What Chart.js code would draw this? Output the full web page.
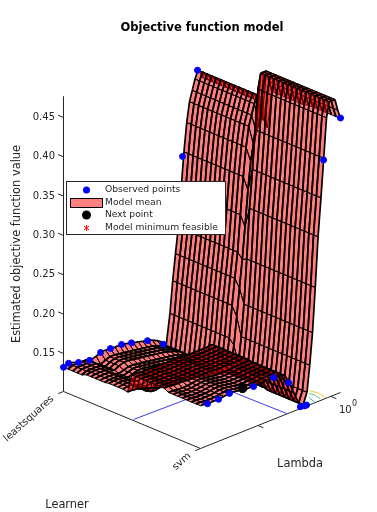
<!DOCTYPE html>
<html>
<head>
<meta charset="utf-8">
<style>
html, body { margin: 0; padding: 0; background: #fff; }
canvas { display: block; }
</style>
<script src="https://cdn.jsdelivr.net/npm/chart.js@4/dist/chart.umd.js"></script>
</head>
<body>
<canvas id="myChart" width="377" height="512"></canvas>
<script>
// categories and ticks
var learners = ['leastsquares', 'svm'];
var learnerTicks = [0, 1];
var lambdaTicks = [-5, 0];
var valueTicks = [0.15, 0.2, 0.25, 0.3, 0.35, 0.4, 0.45];

// model grid: log10(lambda) columns, learner position rows
var lambdaGrid = [-8.94, -8.62, -8.30, -7.98, -7.66, -7.34, -7.02, -6.70, -6.38, -6.06, -5.74, -5.42, -5.10, -4.78, -4.46, -4.14, -3.82, -3.50, -3.18, -2.86, -2.54, -2.22, -1.90, -1.64, -1.45, -1.26, -1.07, -0.88, -0.68, -0.49, -0.30, -0.11, 0.08, 0.28, 0.47, 0.66];
var learnerGrid = [0, .033, .067, .1, .133, .167, .2, .233, .267, .3, .333, .367, .4, .433, .467, .5, .533, .567, .6, .633, .667, .7, .733, .767, .8, .833, .867, .9, .933, .967, 1];

// model mean along lambda, one list per stretch of the learner axis
var backRow = [.1325, .135, .134, .131, .13, .128, .128, .13, .1325, .133, .1325, .132, .132, .131, .13, .128, .127, .125, .124, .122, .119, .115, .108, .147, .187, .22, .252, .298, .345, .381, .406, .419, .432, .442, .437, .429];
var leftRowA = [.1325, .135, .135, .135, .135, .130, .125, .122, .125, .127, .127, .126, .125, .124, .123, .122, .121, .12, .119, .117, .115, .112, .108, .147, .187, .22, .252, .298, .345, .381, .406, .419, .432, .442, .437, .429];
var leftRowB = [.135, .136, .136, .136, .131, .126, .122, .12, .122, .124, .124, .123, .122, .121, .12, .119, .118, .117, .116, .115, .113, .111, .108, .147, .187, .22, .252, .298, .345, .381, .406, .419, .432, .442, .437, .429];
var leftRowC = [.136, .137, .137, .132, .127, .122, .119, .118, .12, .121, .121, .12, .12, .119, .118, .117, .116, .115, .114, .113, .112, .11, .107, .147, .187, .22, .252, .298, .345, .381, .406, .419, .432, .442, .437, .429];
var stepRow = [.135, .135, .134, .132, .13, .128, .126, .124, .123, .122, .122, .122, .121, .12, .119, .118, .117, .116, .115, .114, .112, .11, .107, .14, .175, .21, .245, .285, .33, .365, .385, .40, .41, .415, .41, .40];
var rightRowA = [.159, .159, .158, .158, .158, .157, .157, .157, .157, .157, .157, .156, .156, .156, .156, .156, .156, .157, .153, .143, .128, .113, .106, .119, .152, .192, .248, .311, .359, .408, .458, .477, .477, .477, .462, .448];
var rightRowB = [.156, .156, .155, .155, .155, .156, .157, .157, .156, .155, .154, .154, .154, .154, .155, .155, .155, .156, .152, .141, .125, .11, .105, .119, .152, .192, .248, .311, .359, .408, .458, .477, .477, .477, .462, .45];
var meanRows = [backRow, leftRowA, leftRowA, leftRowA, leftRowA, leftRowB, leftRowB, leftRowB, leftRowB, leftRowB, leftRowC, leftRowC, leftRowC, leftRowC, stepRow,
    rightRowA, rightRowA, rightRowA, rightRowA, rightRowA, rightRowA, rightRowA, rightRowA,
    rightRowB, rightRowB, rightRowB, rightRowB, rightRowB, rightRowB, rightRowB, rightRowB];

// observed points
var obsLambda = [-8.94, -8.59, -7.91, -7.15, -6.40, -5.72, -4.96, -4.28, -3.18, -2.09, -0.78, 0.25, -8.46, -7.70, -6.95, -5.30, -3.94, -2.90, -2.09, -1.81, -1.67, 0.66, -0.50];
var obsLearner = [0, 0, 0, 0, 0, 0, 0, 0, 0, 0, 0, 0, 1, 1, 1, 1, 1, 1, 1, 1, 1, 1, 1];
var obsValue = [.1325, .135, .131, .128, .1325, .1325, .132, .129, .1236, .111, .340, .442, .155, .155, .157, .1535, .1547, .1405, .104, .103, .103, .4506, .406];
var nextLambda = [-6.06];
var nextLearner = [1];
var nextValue = [.157];

// floor contours
var contourBlueLambda = [-8.84, -4.98, -3.08, -3.06, -2.99];
var contourBlueLearner = [.501, .511, .52, .638, .995];
var contourYellowLambda = [-0.26, -0.16, -0.31];
var contourYellowLearner = [.87, .925, 1];
var contourGreenLambda = [-0.52, -0.46, -0.55];
var contourGreenLearner = [.897, .928, .981];
var contourTealLambda = [-0.86, -1.07];
var contourTealLearner = [.933, .999];

var zFloor = 0.1017, zTop = 0.477;
var lamMin = -8.94, lamMax = 0.66;
var pxPerValue = 786.67;
var gap = { x: NaN, y: NaN };

function pt(lam, learner, value) {
    var u = (lam - lamMin) / (lamMax - lamMin);
    return {
        x: 140 * u + 137 * learner,
        y: value + (56 * u - 57 * learner) / pxPerValue
    };
}

function pathSet(points, color, width) {
    return { type: 'line', data: points, borderColor: color, borderWidth: width || 1, pointRadius: 0, fill: false, clip: false, tension: 0 };
}

var datasets = [];

// markers on top
datasets.push({
    type: 'line', showLine: false, clip: false, pointRadius: 3, pointBackgroundColor: '#0000ff', pointBorderColor: '#0000ff', pointBorderWidth: 1,
    data: obsValue.map(function (v, i) { return pt(obsLambda[i], obsLearner[i], v); })
});
datasets.push({
    type: 'line', showLine: false, clip: false, pointRadius: 4.5, pointBackgroundColor: '#000', pointBorderColor: '#000',
    data: nextValue.map(function (v, i) { return pt(nextLambda[i], nextLearner[i], v); })
});

// surface, nearest faces first because the first dataset is painted last
// edges along lambda come out heavier than edges along learner in the reference
for (var i = 0; i < lambdaGrid.length - 1; i++) {
    for (var j = learnerGrid.length - 2; j >= 0; j--) {
        var p00 = pt(lambdaGrid[i], learnerGrid[j], meanRows[j][i]);
        var p10 = pt(lambdaGrid[i + 1], learnerGrid[j], meanRows[j][i + 1]);
        var p11 = pt(lambdaGrid[i + 1], learnerGrid[j + 1], meanRows[j + 1][i + 1]);
        var p01 = pt(lambdaGrid[i], learnerGrid[j + 1], meanRows[j + 1][i]);
        datasets.push(pathSet([p00, p10, gap, p01, p11], '#000', 1.7));
        datasets.push(pathSet([p00, p01, gap, p10, p11], '#000', 1));
        datasets.push({
            type: 'line', clip: false, pointRadius: 0, tension: 0, borderWidth: 0, borderDash: [900, 0],
            fill: 'shape', backgroundColor: 'rgba(255,0,0,0.5)',
            data: [p00, p10, p11, p01, p00]
        });
    }
}

// contours and axes under the surface
function contour(lams, ls, color) {
    datasets.push(pathSet(lams.map(function (l, i) { return pt(l, ls[i], zFloor); }), color));
}
contour(contourBlueLambda, contourBlueLearner, '#3a3ae8');
contour(contourYellowLambda, contourYellowLearner, '#f2cf30');
contour(contourGreenLambda, contourGreenLearner, '#5cc487');
contour(contourTealLambda, contourTealLearner, '#28b4c8');

datasets.push(pathSet([pt(lamMin, 0, zFloor), pt(lamMin, 0, zTop)], '#262626'));
datasets.push(pathSet([pt(lamMin, 0, zFloor), pt(lamMin, 1, zFloor), pt(lamMax, 1, zFloor)], '#262626'));
valueTicks.forEach(function (v) {
    datasets.push(pathSet([pt(lamMin, 0, v), pt(lamMin, -0.04, v)], '#262626'));
});
learnerTicks.forEach(function (v) {
    datasets.push(pathSet([pt(lamMin, v, zFloor), pt(lamMin - 0.36, v, zFloor)], '#262626'));
});
lambdaTicks.forEach(function (l) {
    datasets.push(pathSet([pt(l, 1, zFloor), pt(l, 1.04, zFloor)], '#262626'));
});

// keep the value axis at a fixed pixel size whatever the layout leaves
var lockValueAxis = {
    id: 'lockValueAxis',
    afterLayout: function (chart) {
        var y = chart.scales.y;
        y.min = 0.15 - (y.bottom - 353.5) / pxPerValue;
        y.max = 0.45 + (117.5 - y.top) / pxPerValue;
        y.configure();
    }
};

// axis texts and legend box
var axisText = {
    id: 'axisText',
    afterDatasetsDraw: function (chart) {
        var c = chart.ctx;
        var sx = chart.scales.x, sy = chart.scales.y;
        c.save();
        c.fillStyle = '#262626';
        c.textAlign = 'center';
        c.textBaseline = 'middle';

        c.font = '11.4px "DejaVu Sans"';
        c.save();
        c.translate(17, 244);
        c.rotate(-Math.PI / 2);
        c.fillText('Estimated objective function value', 0, 0);
        c.restore();
        c.fillText('Learner', 67, 505);
        c.fillText('Lambda', 300, 464);

        c.font = '10px "DejaVu Sans"';
        learners.forEach(function (name, k) {
            var p = pt(lamMin, learnerTicks[k], zFloor);
            var px = sx.getPixelForValue(p.x), py = sy.getPixelForValue(p.y);
            c.save();
            c.translate(px - 11, py + 6);
            c.rotate(-42 * Math.PI / 180);
            c.textAlign = 'right';
            c.fillText(name, 0, 0);
            c.restore();
        });
        var t = pt(0, 1, zFloor);
        var tx = sx.getPixelForValue(t.x), ty = sy.getPixelForValue(t.y);
        c.textAlign = 'left';
        c.fillText('10', tx + 8, ty + 14);
        c.font = '8px "DejaVu Sans"';
        c.fillText('0', tx + 21, ty + 8);

        // legend
        c.fillStyle = '#fff';
        c.strokeStyle = '#262626';
        c.lineWidth = 1;
        c.fillRect(66.5, 181.5, 159, 53);
        c.strokeRect(66.5, 181.5, 159, 53);
        c.fillStyle = '#262626';
        c.font = '9.2px "DejaVu Sans"';
        var rows = ['Observed points', 'Model mean', 'Next point', 'Model minimum feasible'];
        var ys = [190, 203, 215, 228];
        rows.forEach(function (r, k) { c.fillText(r, 105, ys[k]); });
        c.fillStyle = '#0000ff';
        c.beginPath(); c.arc(86.5, ys[0], 3.5, 0, 7); c.fill();
        c.fillStyle = '#ff8080';
        c.strokeStyle = '#000';
        c.fillRect(70.5, 198.5, 32, 9);
        c.strokeRect(70.5, 198.5, 32, 9);
        c.fillStyle = '#000';
        c.beginPath(); c.arc(86.5, ys[2], 4.5, 0, 7); c.fill();
        c.strokeStyle = '#ff0000';
        c.beginPath();
        c.moveTo(86.5, ys[3] - 3); c.lineTo(86.5, ys[3] + 3);
        c.moveTo(84, ys[3] - 2); c.lineTo(89, ys[3] + 2);
        c.moveTo(89, ys[3] - 2); c.lineTo(84, ys[3] + 2);
        c.stroke();
        c.restore();
    }
};

Chart.defaults.font.family = '"DejaVu Sans"';
Chart.defaults.color = '#262626';

var ctx = document.getElementById('myChart').getContext('2d');
var myChart = new Chart(ctx, {
    type: 'line',
    data: { datasets: datasets },
    plugins: [lockValueAxis, axisText],
    options: {
        responsive: false,
        animation: false,
        events: [],
        layout: { padding: { left: 0, top: 0, right: 36, bottom: 0 } },
        plugins: {
            legend: { display: false },
            tooltip: { enabled: false },
            filler: { drawTime: 'beforeDatasetDraw' },
            title: {
                display: true,
                text: 'Objective function model',
                fullSize: false,
                color: '#000',
                font: { size: 11.5, weight: 'bold', lineHeight: '14px' },
                padding: { top: 21, bottom: 5 }
            }
        },
        scales: {
            x: { type: 'linear', display: false, min: -0.5, max: 277.5 },
            y: {
                type: 'linear',
                position: 'left',
                min: 0,
                max: 0.55,
                border: { display: false },
                grid: { display: false, drawTicks: false },
                afterBuildTicks: function (scale) {
                    scale.ticks = valueTicks.map(function (v) { return { value: v }; });
                },
                afterFit: function (scale) {
                    scale.width = 63;
                },
                ticks: {
                    autoSkip: false,
                    padding: 8,
                    font: { size: 10 },
                    callback: function (v) { return Number(v).toFixed(2); }
                }
            }
        }
    }
});
</script>
</body>
</html>
